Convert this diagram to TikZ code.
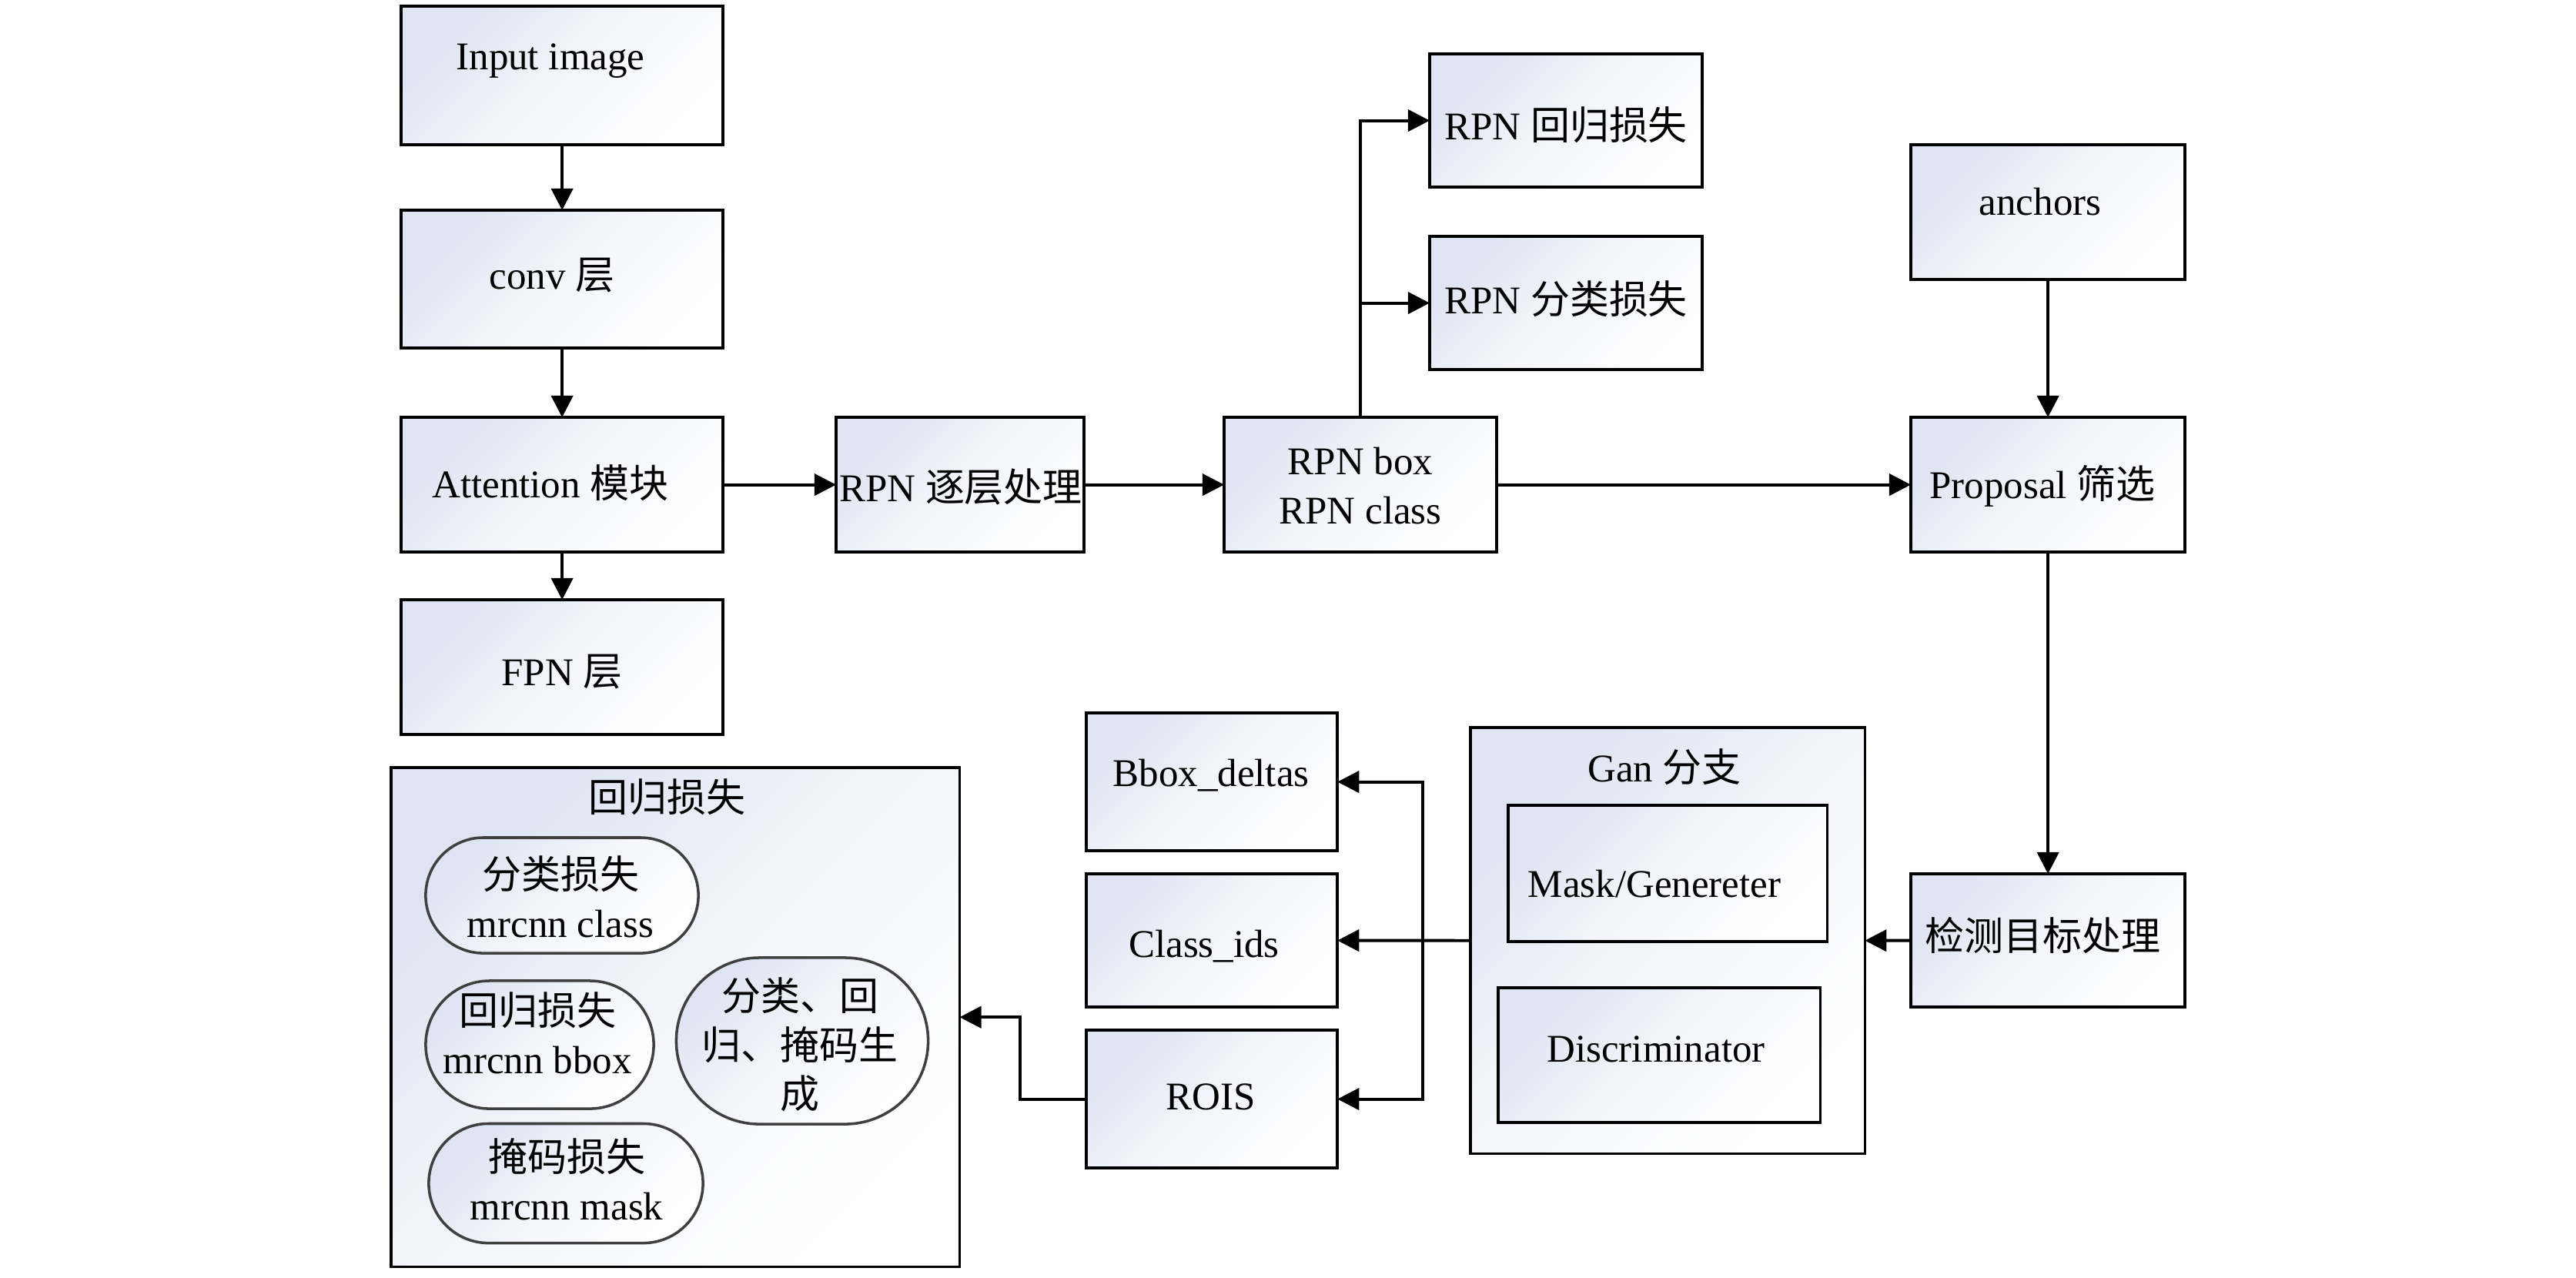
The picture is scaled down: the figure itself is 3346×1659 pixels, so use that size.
\documentclass[tikz,border=0pt]{standalone}
\usepackage{fontspec}
\setmainfont{Liberation Serif}
\newfontfamily\cjk{Noto Sans CJK SC}
\newcommand\zh[1]{{\cjk #1}}
\usetikzlibrary{arrows.meta,shapes.misc}
\definecolor{gradc}{RGB}{222,228,242}
\begin{document}
\begin{tikzpicture}[x=0.01cm,y=-0.01cm,
  box/.style={draw=black,line width=1pt,top color=gradc,bottom color=white,middle color=gradc!35!white,shading angle=45,
    anchor=north west,inner sep=0pt,outer sep=0pt},
  pill/.style={draw=black!75,line width=1pt,rounded rectangle,top color=gradc,bottom color=white,middle color=gradc!35!white,shading angle=45,
    anchor=center,inner sep=0pt,outer sep=0pt},
  txt/.style={font=\fontsize{14.5}{18}\selectfont,align=center,inner sep=0pt},
  arr/.style={-{Triangle[length=8pt,width=8pt]},line width=1.1pt}]
\useasboundingbox (0,0) rectangle (3346,1659);
% boxes
\node[box,minimum width=4.18cm,minimum height=1.80cm] (inp) at (521,8) {};
\node[box,minimum width=4.18cm,minimum height=1.79cm] (conv) at (521,273) {};
\node[box,minimum width=4.18cm,minimum height=1.75cm] (att) at (521,542) {};
\node[box,minimum width=4.18cm,minimum height=1.75cm] (fpn) at (521,779) {};
\node[box,minimum width=3.22cm,minimum height=1.75cm] (rpnl) at (1086,542) {};
\node[box,minimum width=3.54cm,minimum height=1.75cm] (rpnb) at (1590,542) {};
\node[box,minimum width=3.54cm,minimum height=1.73cm] (rpnr) at (1857,70) {};
\node[box,minimum width=3.54cm,minimum height=1.73cm] (rpnc) at (1857,307) {};
\node[box,minimum width=3.56cm,minimum height=1.75cm] (anc) at (2482,188) {};
\node[box,minimum width=3.56cm,minimum height=1.75cm] (prop) at (2482,542) {};
\node[box,minimum width=3.56cm,minimum height=1.73cm] (det) at (2482,1135) {};
\node[box,minimum width=5.12cm,minimum height=5.53cm] (gan) at (1910,945) {};
\node[box,minimum width=4.14cm,minimum height=1.77cm] (mask) at (1959,1046) {};
\node[box,minimum width=4.18cm,minimum height=1.75cm] (disc) at (1946,1283) {};
\node[box,minimum width=3.26cm,minimum height=1.79cm] (bbox) at (1411,926) {};
\node[box,minimum width=3.26cm,minimum height=1.73cm] (cls) at (1411,1135) {};
\node[box,minimum width=3.26cm,minimum height=1.79cm] (rois) at (1411,1338) {};
\node[box,minimum width=7.38cm,minimum height=6.48cm] (loss) at (508,997) {};
\node[pill,minimum width=3.54cm,minimum height=1.50cm] (pa) at (730,1163) {};
\node[pill,minimum width=2.96cm,minimum height=1.66cm] (pb) at (701,1357) {};
\node[pill,minimum width=3.27cm,minimum height=2.16cm] (pc) at (1042,1352) {};
\node[pill,minimum width=3.56cm,minimum height=1.55cm] (pd) at (735,1537) {};
% texts
\node[txt] (t-inp) at (715,79) {Input image};
\node[txt] (t-conv) at (717,358) {conv \zh{层}};
\node[txt] (t-att) at (715,627) {Attention \zh{模块}};
\node[txt] (t-fpn) at (730,873) {FPN \zh{层}};
\node[txt] (t-rpnl) at (1248,632) {RPN \zh{逐层处理}};
\node[txt] (t-rpnb) at (1767,631) {RPN box\\RPN class};
\node[txt] (t-rpnr) at (2034,162) {RPN \zh{回归损失}};
\node[txt] (t-rpnc) at (2034,388) {RPN \zh{分类损失}};
\node[txt] (t-anc) at (2650,262) {anchors};
\node[txt] (t-prop) at (2653,631) {Proposal \zh{筛选}};
\node[txt] (t-det) at (2653,1215) {\zh{检测目标处理}};
\node[txt] (t-gan) at (2162,996) {Gan \zh{分支}};
\node[txt] (t-mask) at (2149,1148) {Mask/Genereter};
\node[txt] (t-disc) at (2151,1363) {Discriminator};
\node[txt] (t-bbox) at (1573,1007) {Bbox\_deltas};
\node[txt] (t-cls) at (1564,1229) {Class\_ids};
\node[txt] (t-rois) at (1573,1425) {ROIS};
\node[txt] (t-loss) at (866,1035) {\zh{回归损失}};
\node[txt] (t-pa) at (728,1165) {\zh{分类损失}\\mrcnn class};
\node[txt] (t-pb) at (698,1342) {\zh{回归损失}\\mrcnn bbox};
\node[txt] (t-pc) at (1039,1357) {\zh{分类、回}\\\zh{归、掩码生}\\\zh{成}};
\node[txt] (t-pd) at (736,1532) {\zh{掩码损失}\\mrcnn mask};
% connectors
\draw[arr] (inp) -- (conv);
\draw[arr] (conv) -- (att);
\draw[arr] (att) -- (fpn);
\draw[arr] (att) -- (rpnl);
\draw[arr] (rpnl) -- (rpnb);
\draw[arr] (rpnb) -- (prop);
\draw[arr] (rpnb.north) |- (rpnr.west);
\draw[arr] (rpnb.north) |- (rpnc.west);
\draw[arr] (anc) -- (prop);
\draw[arr] (prop) -- (det);
\draw[arr] (det.west) -- (gan.east);
\draw[arr] (gan.west) -- (cls.east);
\coordinate (jx) at (1848,0);
\draw[arr] (jx |- gan.west) |- (bbox.east);
\draw[arr] (jx |- gan.west) |- (rois.east);
\draw[arr] (rois.west) -- ++(-86,0) |- (loss.east);
\end{tikzpicture}
\end{document}
